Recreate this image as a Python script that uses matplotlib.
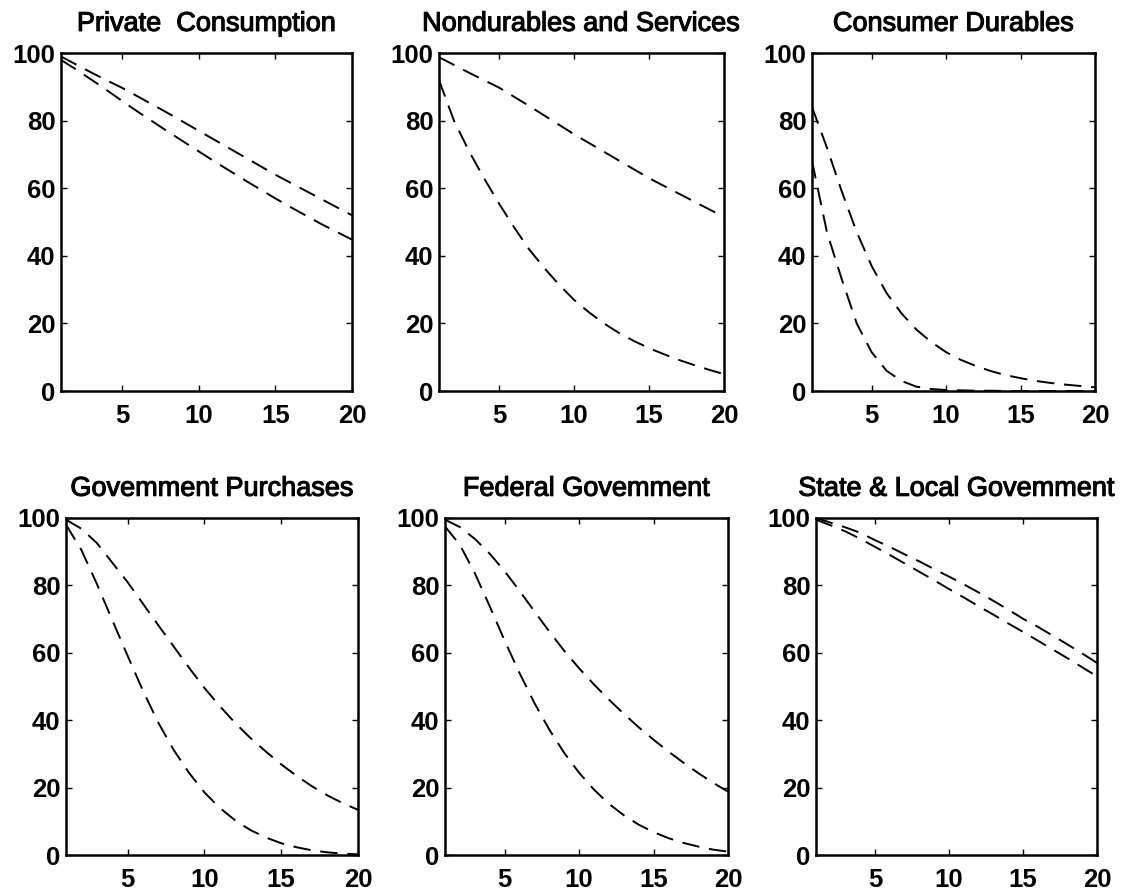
import numpy as np
import matplotlib
matplotlib.use("Agg")
import matplotlib.pyplot as plt
import matplotlib.patheffects as pe

# horizon (quarters)
periods = np.arange(1, 21)

titles = ["Private  Consumption", "Nondurables and Services", "Consumer Durables",
          "Govemment Purchases", "Federal Govemment", "State & Local Govemment"]

# two curves per panel
private_a = [99, 96.6, 94.2, 91.9, 89.7, 87.2, 84.7, 82.2, 79.6, 77, 74.4, 71.8, 69.2, 66.6, 64, 61.6, 59.2, 56.8, 54.4, 52]
private_b = [98, 95.1, 92.1, 89, 85.8, 82.7, 79.7, 76.7, 73.8, 70.9, 68, 65.2, 62.4, 59.7, 57, 54.4, 51.9, 49.4, 47.1, 44.8]

nondur_a = [98.8, 96.5, 94.2, 92, 89.8, 87.1, 84.4, 81.6, 78.8, 76, 73.4, 70.8, 68.2, 65.6, 63, 60.7, 58.4, 56.1, 53.8, 51.5]
nondur_b = [92, 80, 71, 63, 55.5, 48.5, 42, 36.5, 31.5, 27, 23.3, 20, 17.2, 14.8, 12.7, 10.9, 9.2, 7.7, 6.3, 5]

durables_a = [84, 72, 59, 47, 37, 29, 23, 18.2, 14.5, 11.5, 9.2, 7.4, 5.9, 4.7, 3.8, 3.0, 2.4, 1.9, 1.5, 1.1]
durables_b = [68, 47, 33, 20, 11.5, 6, 3, 1.3, 0.6, 0.3, 0.2, 0.1, 0.1, 0, 0, 0, 0, 0, 0, 0]

govt_a = [99.5, 96.8, 92.6, 86.8, 81, 74.6, 68.2, 61.9, 55.6, 49.6, 44.2, 39.2, 34.7, 30.7, 26.9, 23.5, 20.4, 17.7, 15.4, 13.4]
govt_b = [98, 90.5, 80.5, 69.8, 59.2, 48.8, 39.3, 31.2, 24.4, 18.6, 14, 10.3, 7.4, 5.2, 3.5, 2.3, 1.4, 0.8, 0.4, 0.2]

federal_a = [99.5, 97.3, 93.8, 89.4, 84.2, 78.4, 72.3, 66.3, 60.6, 55.4, 50.6, 46.1, 41.9, 37.9, 34.2, 30.7, 27.4, 24.3, 21.4, 18.8]
federal_b = [97.5, 92, 83.6, 73.8, 63.6, 54, 45.1, 37.2, 30.3, 24.4, 19.4, 15.2, 11.8, 9, 6.8, 5, 3.6, 2.5, 1.6, 1]

state_a = [100, 98.6, 97.2, 95.6, 93.4, 91.4, 89.2, 87.1, 84.8, 82.6, 80.3, 77.9, 75.4, 72.8, 70.1, 67.7, 65.1, 62.5, 59.8, 57]
state_b = [99.5, 97.8, 96, 93.8, 91.4, 89, 86.5, 84, 81.5, 78.9, 76.4, 73.8, 71.3, 68.7, 66.2, 63.6, 61, 58.4, 55.7, 53]

series = [(private_a, private_b), (nondur_a, nondur_b), (durables_a, durables_b),
          (govt_a, govt_b), (federal_a, federal_b), (state_a, state_b)]

xticks = [5, 10, 15, 20]
yticks = [0, 20, 40, 60, 80, 100]

plt.rcParams['font.family'] = ['Liberation Sans', 'DejaVu Sans']

fig = plt.figure(figsize=(11.21, 8.94), dpi=100)

# axes boxes (left, bottom, width, height) matched to the scan
boxes = [[0.0544, 0.5626, 0.2596, 0.378], [0.3916, 0.5626, 0.2542, 0.378], [0.7244, 0.5626, 0.2525, 0.378],
         [0.0589, 0.0436, 0.2605, 0.377], [0.3970, 0.0436, 0.2525, 0.377], [0.7279, 0.0436, 0.2507, 0.377]]

for box, title, (a, b) in zip(boxes, titles, series):
    ax = fig.add_axes(box)
    ax.plot(periods, a, color='black', lw=1.4, dashes=(9, 5))
    ax.plot(periods, b, color='black', lw=1.4, dashes=(9, 5))
    ax.set_xlim(1, 20)
    ax.set_ylim(0, 100)
    ax.set_xticks(xticks)
    ax.set_yticks(yticks)
    ax.tick_params(direction='in', top=True, right=True, length=4, width=1,
                   labelsize=18.5)
    ax.tick_params(axis='x', pad=9)
    ax.tick_params(axis='y', pad=4)
    for lab in ax.get_xticklabels() + ax.get_yticklabels():
        lab.set_fontweight('bold')
    for s in ax.spines.values():
        s.set_linewidth(1.8)
    t = ax.set_title(title, fontsize=19.5, pad=16)
    t.set_path_effects([pe.withStroke(linewidth=0.8, foreground='black')])

fig.savefig("out.png", dpi=100)
